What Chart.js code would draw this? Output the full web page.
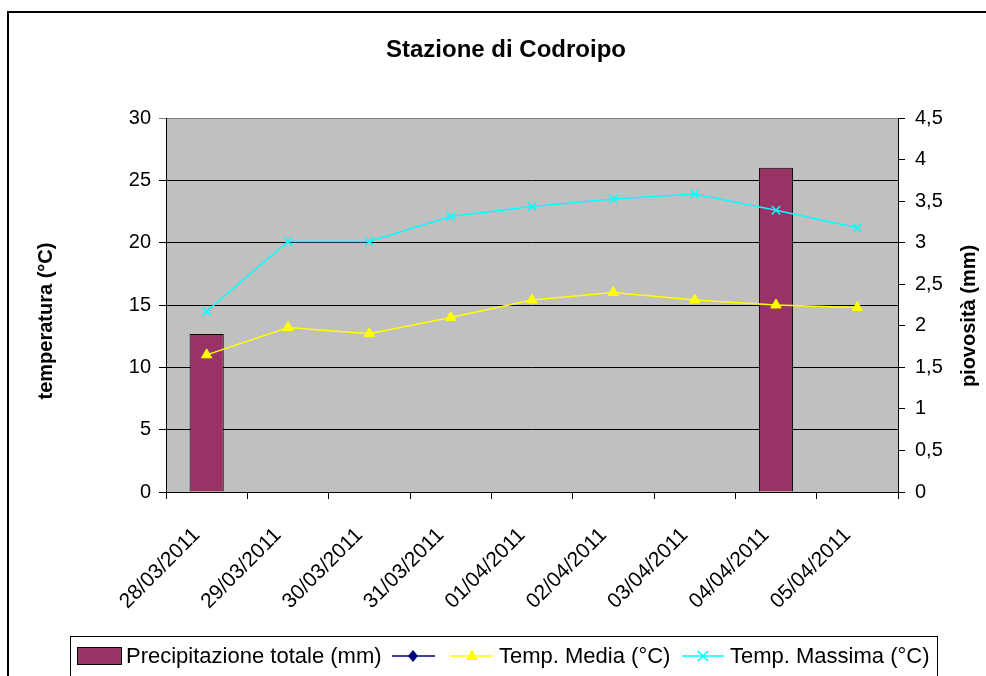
<!DOCTYPE html>
<html>
<head>
<meta charset="utf-8">
<title>Stazione di Codroipo</title>
<script src="https://cdn.jsdelivr.net/npm/chart.js@4/dist/chart.umd.min.js"></script>
<style>
  html, body { margin: 0; padding: 0; background: #fff; }
  #wrap { width: 986px; height: 676px; }
</style>
</head>
<body>
<div id="wrap"><canvas id="grafico" width="986" height="676"></canvas></div>
<script>
// dati
const giorni = ['28/03/2011', '29/03/2011', '30/03/2011', '31/03/2011', '01/04/2011',
  '02/04/2011', '03/04/2011', '04/04/2011', '05/04/2011']
const precipitazione = [1.9, 0, 0, 0, 0, 0, 0, 3.9, 0]
const tempMinima = [null, null, null, null, null, null, null, null, null]
const tempMedia = [11.0, 13.2, 12.7, 14.0, 15.4, 16.0, 15.4, 15.0, 14.8]
const tempMassima = [14.5, 20.1, 20.1, 22.1, 22.9, 23.5, 23.9, 22.6, 21.2]
const tickPiovosita = ['0', '0,5', '1', '1,5', '2', '2,5', '3', '3,5', '4', '4,5']

const FONT = '"Liberation Sans", Arial, sans-serif'
Chart.defaults.font.family = FONT
Chart.defaults.color = '#000'

// sfondo grigio dell'area del grafico
const sfondo = {
  id: 'sfondo',
  beforeDraw (chart) {
    const { ctx, chartArea: a } = chart
    ctx.save()
    ctx.fillStyle = '#C0C0C0'
    ctx.fillRect(a.left, a.top, a.right - a.left, a.bottom - a.top)
    ctx.restore()
  }
}

// titoli, legenda e cornice (stile Excel)
const decorazioni = {
  id: 'decorazioni',
  afterDraw (chart) {
    const ctx = chart.ctx
    ctx.save()

    // cornice
    ctx.strokeStyle = '#000'
    ctx.lineWidth = 2
    ctx.beginPath()
    ctx.moveTo(8, 676)
    ctx.lineTo(8, 12)
    ctx.lineTo(986, 12)
    ctx.stroke()

    // titolo
    ctx.fillStyle = '#000'
    ctx.textAlign = 'center'
    ctx.textBaseline = 'middle'
    ctx.font = 'bold 24px ' + FONT
    ctx.fillText('Stazione di Codroipo', 506, 50)

    // titoli degli assi
    ctx.save()
    ctx.translate(46, 321)
    ctx.rotate(-Math.PI / 2)
    ctx.font = 'bold 20px ' + FONT
    ctx.fillText('temperatura (°C)', 0, 0)
    ctx.restore()

    ctx.save()
    ctx.translate(969, 316)
    ctx.rotate(-Math.PI / 2)
    ctx.font = 'bold 20px ' + FONT
    ctx.fillText('piovosità (mm)', 0, 0)
    ctx.restore()

    // legenda
    const ds = chart.data.datasets
    const ly = 656
    ctx.lineWidth = 1
    ctx.strokeStyle = '#000'
    ctx.strokeRect(70.5, 636.5, 867, 50)

    ctx.fillStyle = ds[0].backgroundColor
    ctx.fillRect(77, 647, 44, 17)
    ctx.strokeRect(77.5, 647.5, 44, 17)

    ctx.font = '22px ' + FONT
    ctx.textAlign = 'left'
    ctx.fillStyle = '#000'
    ctx.fillText(ds[0].label, 126, ly + 1)

    const voce = (d, x0, x1, xm) => {
      ctx.strokeStyle = d.borderColor
      ctx.fillStyle = d.backgroundColor
      ctx.lineWidth = 1.5
      ctx.beginPath()
      ctx.moveTo(x0, ly)
      ctx.lineTo(x1, ly)
      ctx.stroke()
      ctx.beginPath()
      if (d.pointStyle === 'rectRot') {
        ctx.moveTo(xm, ly - 6)
        ctx.lineTo(xm + 5, ly)
        ctx.lineTo(xm, ly + 6)
        ctx.lineTo(xm - 5, ly)
        ctx.closePath()
        ctx.fill()
      } else if (d.pointStyle === 'triangle') {
        ctx.moveTo(xm, ly - 7)
        ctx.lineTo(xm + 6, ly + 4)
        ctx.lineTo(xm - 6, ly + 4)
        ctx.closePath()
        ctx.fill()
      } else {
        ctx.moveTo(xm - 5, ly - 5)
        ctx.lineTo(xm + 5, ly + 5)
        ctx.moveTo(xm + 5, ly - 5)
        ctx.lineTo(xm - 5, ly + 5)
        ctx.stroke()
      }
      if (d.label) {
        ctx.fillStyle = '#000'
        ctx.fillText(d.label, x1 + 6, ly + 1)
      }
    }
    voce(ds[1], 392, 435, 413)
    voce(ds[2], 450, 493, 472)
    voce(ds[3], 682, 724, 703)

    ctx.restore()
  }
}

new Chart(document.getElementById('grafico'), {
  data: {
    labels: giorni,
    datasets: [
      {
        type: 'bar',
        label: 'Precipitazione totale (mm)',
        data: precipitazione,
        yAxisID: 'yPioggia',
        xAxisID: 'x',
        backgroundColor: '#993366',
        borderColor: '#000',
        borderWidth: 1,
        barPercentage: 0.42,
        categoryPercentage: 1,
        order: 2
      },
      {
        type: 'line',
        label: '',
        data: tempMinima,
        yAxisID: 'yTemp',
        xAxisID: 'x',
        borderColor: '#000080',
        backgroundColor: '#000080',
        pointStyle: 'rectRot',
        pointRadius: 5,
        borderWidth: 1.5,
        order: 1
      },
      {
        type: 'line',
        label: 'Temp. Media (°C)',
        data: tempMedia,
        yAxisID: 'yTemp',
        xAxisID: 'x',
        borderColor: '#FFFF00',
        backgroundColor: '#FFFF00',
        pointStyle: 'triangle',
        pointRadius: 6,
        pointBorderWidth: 1,
        borderWidth: 1.5,
        order: 1
      },
      {
        type: 'line',
        label: 'Temp. Massima (°C)',
        data: tempMassima,
        yAxisID: 'yTemp',
        xAxisID: 'x',
        borderColor: '#00FFFF',
        backgroundColor: '#00FFFF',
        pointStyle: 'crossRot',
        pointRadius: 6,
        pointBorderWidth: 1.5,
        borderWidth: 1.5,
        order: 0
      }
    ]
  },
  options: {
    responsive: false,
    animation: false,
    layout: { padding: { top: 118, left: 0, right: 0, bottom: 0 } },
    plugins: {
      legend: { display: false },
      tooltip: { enabled: false }
    },
    scales: {
      x: {
        offset: true,
        grid: { offset: true, drawOnChartArea: false, tickLength: 7, color: '#000' },
        border: { color: '#000', width: 1 },
        ticks: { minRotation: 45, maxRotation: 45, autoSkip: false, font: { size: 21 }, padding: 24, labelOffset: -10 },
        afterFit: s => { s.height = 676 - 492 }
      },
      yTemp: {
        position: 'left',
        min: 0,
        max: 30,
        ticks: { stepSize: 5, font: { size: 20 }, padding: 8 },
        grid: { color: c => c.tick && c.tick.value === 30 ? '#808080' : '#000', tickLength: 7 },
        border: { color: '#000', width: 1 },
        afterFit: s => { s.width = 166 }
      },
      yPioggia: {
        position: 'right',
        min: 0,
        max: 4.5,
        ticks: { stepSize: 0.5, font: { size: 20 }, padding: 10, callback: (v, i) => tickPiovosita[i] },
        grid: { drawOnChartArea: false, tickLength: 7, color: '#000' },
        border: { color: '#000', width: 1 },
        afterFit: s => { s.width = 986 - 898 }
      }
    }
  },
  plugins: [sfondo, decorazioni]
})
</script>
</body>
</html>
